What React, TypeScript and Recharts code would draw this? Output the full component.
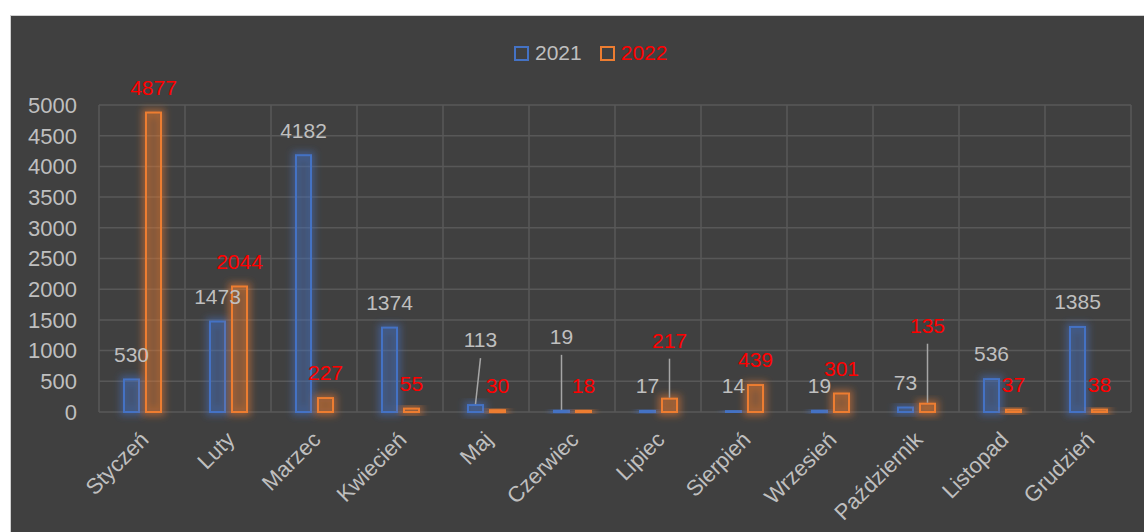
import { BarChart, Bar, XAxis, YAxis, CartesianGrid, Legend, LabelList } from 'recharts'

// ─── Data ─────────────────────────────────────────────────────────────────────
const months = ['Styczeń', 'Luty', 'Marzec', 'Kwiecień', 'Maj', 'Czerwiec', 'Lipiec', 'Sierpień', 'Wrzesień', 'Październik', 'Listopad', 'Grudzień']
const values2021 = [530, 1473, 4182, 1374, 113, 19, 17, 14, 19, 73, 536, 1385]
const values2022 = [4877, 2044, 227, 55, 30, 18, 217, 439, 301, 135, 37, 38]
const yTicks = [0, 500, 1000, 1500, 2000, 2500, 3000, 3500, 4000, 4500, 5000]

// label nudges (px) – a few labels were dragged up with a leader line
const lift2021 = [0, 0, 0, 0, 40, 49, 0, 0, 0, 0, 0, 0]
const dx2021 = [0, 0, 0, 0, 5, 0, 0, 0, 0, 0, 0, 0]
const lift2022 = [0, 0, 0, 0, 0, 0, 33, 0, 0, 53, 0, 0]
const dx2022 = [0, 0, 0, 0, 0, 0, 0, 0, 0, 0, 0, 0]

const data = months.map((m, i) => ({ month: m, y2021: values2021[i], y2022: values2022[i] }))

// ─── Styles ───────────────────────────────────────────────────────────────────
const BG = '#404040'
const GRID = '#585858'
const GREY = '#bfbfbf'
const RED = '#ff0000'
const BLUE = '#4472c4'
const ORANGE = '#ed7d31'
const FONT = '"Liberation Sans", Arial, sans-serif'
const FS = 22
const LABEL_FS = 21

const glowBar = (color: string) => (props: any) => {
  const { x, y, width, height } = props
  if (x == null || y == null) return <g />
  return (
    <g>
      <rect x={x} y={y} width={width} height={height} fill={color} fillOpacity={0.25} stroke={color} strokeWidth={8} strokeOpacity={0.45} filter="url(#glow)" />
      <rect x={x} y={y} width={width} height={height} fill={color} fillOpacity={0.1} stroke={color} strokeWidth={2} />
    </g>
  )
}

const makeLabel = (color: string, lift: number[], dx: number[]) => (props: any) => {
  const { x, y, width, value, index } = props
  const cx = x + width / 2
  const l = lift[index] ?? 0
  const d = dx[index] ?? 0
  const cy = y - 25 - l
  return (
    <g>
      {l > 0 && <line x1={cx + d} y1={cy + 18} x2={cx} y2={y - 1} stroke="#a6a6a6" strokeWidth={1.5} />}
      <text x={cx + d} y={cy} dy="0.35em" textAnchor="middle" fill={color} fontSize={LABEL_FS} fontFamily={FONT}>{value}</text>
    </g>
  )
}

const MonthTick = (props: any) => {
  const { x, y, payload } = props
  return (
    <g transform={`translate(${x + 8},${y + 21})`}>
      <text x={0} y={0} textAnchor="end" transform="rotate(-45)" fill={GREY} fontSize={FS} fontFamily={FONT}>{payload.value}</text>
    </g>
  )
}

const LegendContent = (props: any) => {
  const items = props.payload ?? []
  return (
    <div style={{ display: 'flex', alignItems: 'center', fontFamily: FONT, fontSize: LABEL_FS }}>
      {items.map((it: any, i: number) => (
        <div key={i} style={{ display: 'flex', alignItems: 'center', marginRight: 18 }}>
          <span style={{ width: 11, height: 11, border: `2px solid ${it.color}`, display: 'inline-block', marginRight: 6 }} />
          <span style={{ color: i === 0 ? GREY : RED }}>{it.value}</span>
        </div>
      ))}
    </div>
  )
}

export default function App() {
  return (
    <div style={{ position: 'absolute', left: 10, top: 15, width: 1134, height: 517, background: BG, borderLeft: '1px solid #d0d0d0', borderTop: '1px solid #d0d0d0', overflow: 'hidden' }}>
      <BarChart width={1134} height={517} data={data} barSize={15} barGap={7} margin={{ top: 89, right: 14, left: 0, bottom: 21 }}>
        <defs>
          <filter id="glow" x="-100%" y="-100%" width="300%" height="300%">
            <feGaussianBlur stdDeviation="3.5" />
          </filter>
        </defs>
        <CartesianGrid
          stroke={GRID}
          strokeWidth={1.5}
          verticalCoordinatesGenerator={({ offset }: any) => months.map((_, i) => offset.left + (i * offset.width) / months.length).concat(offset.left + offset.width)}
        />
        <XAxis dataKey="month" axisLine={false} tickLine={false} interval={0} height={100} tick={<MonthTick />} />
        <YAxis
          width={88}
          domain={[0, 5000]}
          ticks={yTicks}
          interval={0}
          axisLine={false}
          tickLine={false}
          tickSize={6}
          tickMargin={16}
          tick={{ fill: GREY, fontSize: FS, fontFamily: FONT }}
        />
        <Legend
          content={<LegendContent />}
          layout="horizontal"
          verticalAlign="middle"
          align="center"
          wrapperStyle={{ position: 'absolute', left: 503, top: 25, width: 'auto' }}
        />
        <Bar dataKey="y2021" name="2021" fill={BLUE} shape={glowBar(BLUE)} isAnimationActive={false}>
          <LabelList dataKey="y2021" content={makeLabel(GREY, lift2021, dx2021)} />
        </Bar>
        <Bar dataKey="y2022" name="2022" fill={ORANGE} shape={glowBar(ORANGE)} isAnimationActive={false}>
          <LabelList dataKey="y2022" content={makeLabel(RED, lift2022, dx2022)} />
        </Bar>
      </BarChart>
    </div>
  )
}
